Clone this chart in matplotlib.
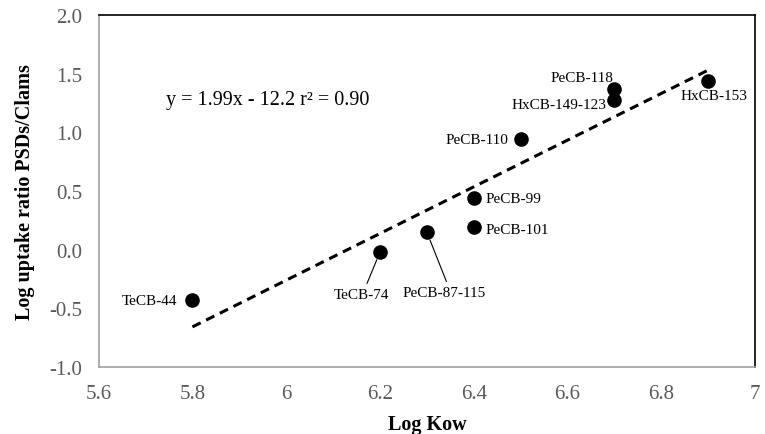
import matplotlib
matplotlib.use("Agg")
import matplotlib.pyplot as plt
import numpy as np

# data
log_kow = [5.8, 6.2, 6.3, 6.4, 6.4, 6.5, 6.7, 6.7, 6.9]
log_ratio = [-0.43, -0.02, 0.15, 0.19, 0.44, 0.94, 1.37, 1.28, 1.44]
names = ["TeCB-44", "TeCB-74", "PeCB-87-115", "PeCB-101", "PeCB-99",
         "PeCB-110", "PeCB-118", "HxCB-149-123", "HxCB-153"]
slope, intercept = 1.99, -12.2
xticks = [5.6, 5.8, 6.0, 6.2, 6.4, 6.6, 6.8, 7.0]
xticklabels = ["5.6", "5.8", "6", "6.2", "6.4", "6.6", "6.8", "7"]
yticks = [-1.0, -0.5, 0.0, 0.5, 1.0, 1.5, 2.0]

plt.rcParams['font.family'] = ['Liberation Serif', 'DejaVu Serif']

fig = plt.figure(figsize=(7.65, 4.35), dpi=100)
ax = fig.add_axes([0.129, 0.154, 0.858, 0.809])

ax.plot(log_kow, log_ratio, 'o', color='black', markersize=9.5, zorder=3)

xl = np.array([min(log_kow), max(log_kow)])
ax.plot(xl, slope * xl + intercept, '--', color='black', lw=2.2, dashes=(3, 2))

# label placement: (dx, dy) in pixels, alignment, leader line
lab = {
    "TeCB-44": (-15, 0, 'right', None),
    "TeCB-74": (-18, -42, 'center', 0.56),
    "PeCB-87-115": (17, -60, 'center', 0.55),
    "PeCB-101": (12, -2, 'left', None),
    "PeCB-99": (12, 0, 'left', None),
    "PeCB-110": (-12, 0, 'right', None),
    "PeCB-118": (-1, 11, 'right', None),
    "HxCB-149-123": (-8, -5, 'right', None),
    "HxCB-153": (6, -15, 'center', None),
}
for x, y, n in zip(log_kow, log_ratio, names):
    dx, dy, ha, rp = lab[n]
    kw = {}
    if rp is not None:
        kw['arrowprops'] = dict(arrowstyle='-', color='black', lw=0.8,
                                relpos=(rp, 1.0), shrinkA=1, shrinkB=6)
    ax.annotate(n, (x, y), xytext=(dx, dy), textcoords='offset pixels',
                ha=ha, va='center', fontsize=11, **kw)

ax.text(5.743, 1.28, "y = 1.99x - 12.2 r² = 0.90", fontsize=14.5, va='center')

ax.set_xlim(5.6, 7.0)
ax.set_ylim(-1.0, 2.0)
ax.set_xticks(xticks)
ax.set_xticklabels(xticklabels)
ax.set_yticks(yticks)
ax.yaxis.set_major_formatter(matplotlib.ticker.FormatStrFormatter('%.1f'))
ax.tick_params(length=0, labelsize=15, labelcolor='#595959')
ax.tick_params(axis='x', pad=12)
ax.tick_params(axis='y', pad=12)

for s in ['top', 'right']:
    ax.spines[s].set_color('black')
    ax.spines[s].set_linewidth(1.2)
for s in ['left', 'bottom']:
    ax.spines[s].set_color('#a0a0a0')
    ax.spines[s].set_linewidth(1.2)

ax.set_xlabel("Log Kow", fontsize=14.5, fontweight='bold', labelpad=8)
ax.set_ylabel("Log uptake ratio PSDs/Clams", fontsize=14.5, fontweight='bold', labelpad=10)

fig.savefig("out.png", dpi=100)
